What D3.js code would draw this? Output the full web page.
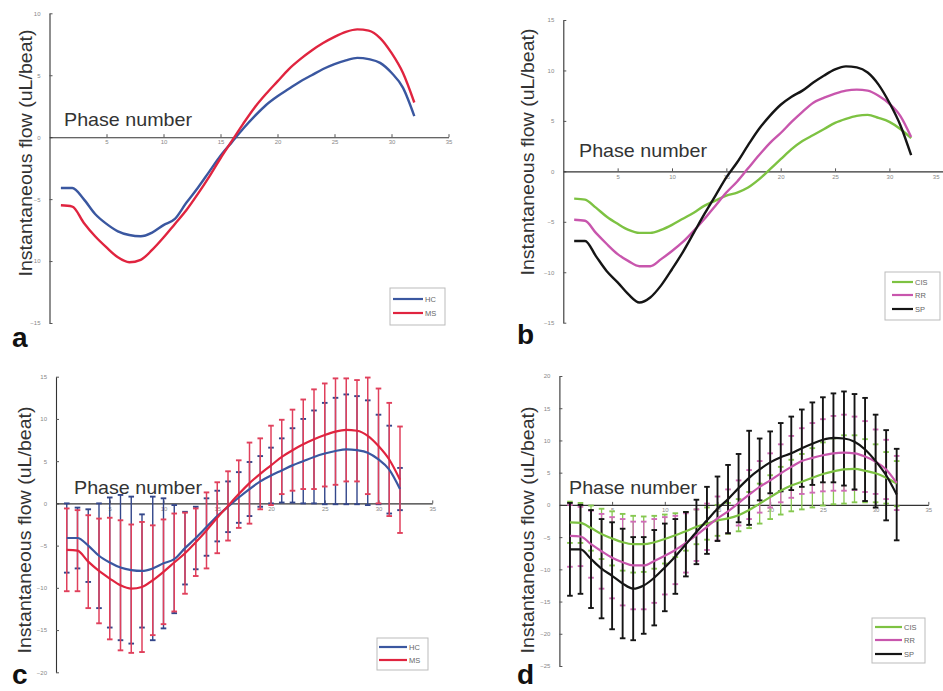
<!DOCTYPE html>
<html><head><meta charset="utf-8">
<script src="https://cdn.jsdelivr.net/npm/d3@7"></script>
<style>body{margin:0;background:#fff}svg{display:block}text{font-family:"Liberation Sans",Arial,sans-serif}</style>
</head><body><svg id="chart" width="943" height="691"></svg>
<script>
// ---- data ----
const phases = [1,2,3,4,5,6,7,8,9,10,11,12,13,14,15,16,17,18,19,20,21,22,23,24,25,26,27,28,29,30,31,32];
const xTicks = [5,10,15,20,25,30,35];
const yTicksA = [-15,-10,-5,0,5,10];
const yTicksB = [-15,-10,-5,0,5,10,15];
const yTicksC = [-20,-15,-10,-5,0,5,10,15];
const yTicksD = [-25,-20,-15,-10,-5,0,5,10,15,20];

const hcMean = [-4.1,-4.1,-5.0,-6.2,-7.0,-7.6,-7.9,-8.0,-7.7,-7.1,-6.6,-5.3,-4.1,-2.8,-1.5,-0.4,0.7,1.7,2.6,3.3,3.9,4.5,5.0,5.5,5.9,6.2,6.4,6.3,6.0,5.2,4.0,1.7];
const msMean = [-5.5,-5.6,-6.9,-8.0,-8.9,-9.7,-10.1,-9.9,-9.1,-8.1,-7.0,-5.9,-4.6,-3.2,-1.7,-0.3,1.1,2.4,3.5,4.5,5.5,6.3,7.0,7.6,8.1,8.5,8.7,8.6,8.0,6.8,5.2,2.8];
const hcSD = [4.1,3.6,4.3,6.2,7.7,8.6,8.7,6.7,8.5,7.7,6.4,4.3,3.7,3.4,3.0,3.0,3.0,3.2,3.0,3.3,3.8,4.4,5.0,5.5,6.0,6.3,6.5,6.4,6.2,5.3,5.2,2.5];
const msSD = [4.9,4.8,5.5,6.2,7.2,7.7,7.6,7.7,6.5,6.2,5.8,4.8,4.0,4.5,4.2,4.1,4.0,4.8,4.2,4.7,4.4,4.8,5.3,5.9,6.1,6.3,6.1,6.0,6.9,6.8,6.7,6.3];

const cisMean = [-2.7,-2.8,-3.6,-4.5,-5.2,-5.8,-6.1,-6.1,-5.8,-5.3,-4.7,-4.1,-3.4,-2.9,-2.4,-2.1,-1.6,-0.8,0.2,1.2,2.2,3.0,3.6,4.2,4.8,5.2,5.5,5.6,5.3,4.9,4.2,3.3];
const rrMean = [-4.8,-4.9,-6.1,-7.2,-8.2,-8.9,-9.4,-9.4,-8.7,-7.9,-7.0,-5.9,-4.7,-3.4,-2.1,-1.0,0.3,1.6,2.8,3.8,4.9,5.9,6.8,7.3,7.7,8.0,8.1,8.0,7.5,6.7,5.5,3.4];
const spMean = [-6.9,-6.9,-8.4,-9.9,-11.0,-12.2,-13.0,-12.5,-11.3,-9.7,-8.0,-6.1,-4.2,-2.4,-0.6,0.9,2.6,4.2,5.5,6.6,7.4,8.0,8.8,9.5,10.1,10.4,10.3,9.8,8.6,6.8,4.6,1.6];
const cisSD = [3.2,3.1,3.5,3.9,4.2,4.4,4.4,4.3,4.1,3.8,3.4,3.0,2.7,2.5,2.4,2.4,2.5,2.8,3.1,3.4,3.7,4.0,4.3,4.6,4.9,5.1,5.3,5.2,4.9,4.5,4.0,3.5];
const rrSD = [4.8,4.6,5.2,5.8,6.3,6.7,6.8,6.8,6.5,6.0,5.3,4.6,4.0,3.6,3.4,3.4,3.5,3.8,4.0,4.2,4.5,4.8,5.1,5.4,5.6,5.8,5.9,5.7,5.5,5.0,4.6,4.2];
const spSD = [7.2,6.9,7.6,7.7,8.3,8.5,8.0,7.5,7.4,6.8,5.8,5.0,5.0,5.2,5.0,5.3,5.3,7.3,4.8,4.8,5.3,5.7,6.0,6.4,6.6,6.9,7.3,7.4,8.0,7.2,7.0,7.1];

const groupsAC = ["HC","MS"];
const groupsBD = ["CIS","RR","SP"];

// ---- drawing ----
const svg = d3.select("#chart");
const colors = {HC:"#3a57a0", MS:"#e0243f", CIS:"#7dc242", RR:"#c856ad", SP:"#151515"};
const barColors = {HC:"#33468a", MS:"#e0405c", CIS:"#86c850", RR:"#cf6cb6", SP:"#151515"};
const barWidth = {HC:1.4, MS:1.5, CIS:1.3, RR:1.3, SP:1.9};

const panels = [
  {label:"a", lx:12, ly:347, x0:49.5, ux:11.4, dom:[-15,10], yr:[323,13.3], yt:yTicksA,
   series:[["HC",hcMean],["MS",msMean]], sd:null, names:groupsAC,
   yl:[25,153], pn:[64,126], leg:{x:390,y:288,w:55,h:37,rows:[299,313],lx1:393,lx2:423}},
  {label:"b", lx:517, ly:344, x0:563.3, ux:10.87, dom:[-15,15], yr:[322.7,20], yt:yTicksB,
   series:[["CIS",cisMean],["RR",rrMean],["SP",spMean]], sd:null, names:groupsBD,
   yl:[527,152], pn:[579,157], leg:{x:885,y:272,w:55,h:48,rows:[282,295,309],lx1:892,lx2:913}},
  {label:"c", lx:12, ly:684, x0:56, ux:10.75, dom:[-20,15], yr:[672.3,376.7], yt:yTicksC,
   series:[["HC",hcMean],["MS",msMean]], sd:[hcSD,msSD], names:groupsAC,
   yl:[24,530], pn:[74,494], leg:{x:377,y:638,w:51,h:32,rows:[647,660],lx1:379,lx2:407}},
  {label:"d", lx:517, ly:684, x0:559.4, ux:10.54, dom:[-25,20], yr:[666,376], yt:yTicksD,
   series:[["CIS",cisMean],["RR",rrMean],["SP",spMean]], sd:[cisSD,rrSD,spSD], names:groupsBD,
   yl:[527,530], pn:[569,494], leg:{x:872,y:618,w:53,h:45,rows:[627,640,654],lx1:875,lx2:902}}
];

panels.forEach(p => {
  const g = svg.append("g");
  const x = d3.scaleLinear().domain([0,35]).range([p.x0, p.x0 + 35*p.ux]);
  const y = d3.scaleLinear().domain(p.dom).range(p.yr);

  // axes
  const ya = g.append("g").attr("transform",`translate(${x(0)},0)`)
    .call(d3.axisLeft(y).tickValues(p.yt).tickSize(-3).tickSizeOuter(0).tickPadding(9));
  const xa = g.append("g").attr("transform",`translate(0,${y(0)})`)
    .call(d3.axisBottom(x).tickValues(xTicks).tickSize(-3).tickSizeOuter(0).tickPadding(3));
  [ya,xa].forEach(a => {
    a.select(".domain").attr("stroke","#333").attr("stroke-width",1.1);
    a.selectAll(".tick line").attr("stroke","#555");
    a.selectAll(".tick text").attr("fill","#888").style("font-size","6px");
  });
  // keep the right-most x label inside the picture
  xa.selectAll(".tick text").filter(d => x(d) > 935)
    .attr("text-anchor","end").attr("x", d => 939 - x(d)).attr("dx", 0);

  // error bars
  if (p.sd) {
    p.series.forEach(([name, vals], si) => {
      const sds = p.sd[si];
      const eb = g.append("g").attr("stroke", barColors[name]).attr("stroke-width",barWidth[name]);
      phases.forEach((ph,i) => {
        const lo = y(vals[i]-sds[i]), hi = y(vals[i]+sds[i]), cx = x(ph);
        eb.append("line").attr("x1",cx).attr("x2",cx).attr("y1",lo).attr("y2",hi);
        eb.append("line").attr("x1",cx-2.8).attr("x2",cx+2.8).attr("y1",lo).attr("y2",lo).attr("stroke-width",1.9);
        eb.append("line").attr("x1",cx-2.8).attr("x2",cx+2.8).attr("y1",hi).attr("y2",hi).attr("stroke-width",1.9);
      });
    });
  }

  // lines
  const line = d3.line().x((d,i)=>x(phases[i])).y(d=>y(d)).curve(d3.curveMonotoneX);
  p.series.forEach(([name, vals]) => {
    g.append("path").attr("d", line(vals)).attr("fill","none")
      .attr("stroke", colors[name]).attr("stroke-width", p.sd ? 2.2 : 2.4).attr("stroke-linejoin","round");
  });

  // texts
  g.append("text").attr("transform",`translate(${p.yl[0]},${p.yl[1]}) rotate(-90)`)
    .attr("text-anchor","middle").attr("dominant-baseline","central")
    .attr("fill","#333").style("font-size","19px")
    .attr("textLength",247).attr("lengthAdjust","spacingAndGlyphs")
    .text("Instantaneous flow (uL/beat)");
  g.append("text").attr("x",p.pn[0]).attr("y",p.pn[1]).attr("fill","#333").style("font-size","19px")
    .attr("textLength",128).attr("lengthAdjust","spacingAndGlyphs").text("Phase number");
  g.append("text").attr("x",p.lx).attr("y",p.ly).attr("fill","#111")
    .style("font-size","28px").style("font-weight","bold").text(p.label);

  // legend
  const L = p.leg;
  g.append("rect").attr("x",L.x).attr("y",L.y).attr("width",L.w).attr("height",L.h)
    .attr("fill","#fff").attr("stroke","#bbb").attr("stroke-width",1);
  p.names.forEach((n,i) => {
    g.append("line").attr("x1",L.lx1).attr("x2",L.lx2).attr("y1",L.rows[i]).attr("y2",L.rows[i])
      .attr("stroke",colors[n]).attr("stroke-width",2.2);
    g.append("text").attr("x",L.lx2+2).attr("y",L.rows[i]).attr("dominant-baseline","central")
      .attr("fill","#666").style("font-size","7.5px").text(n);
  });
});
</script></body></html>
